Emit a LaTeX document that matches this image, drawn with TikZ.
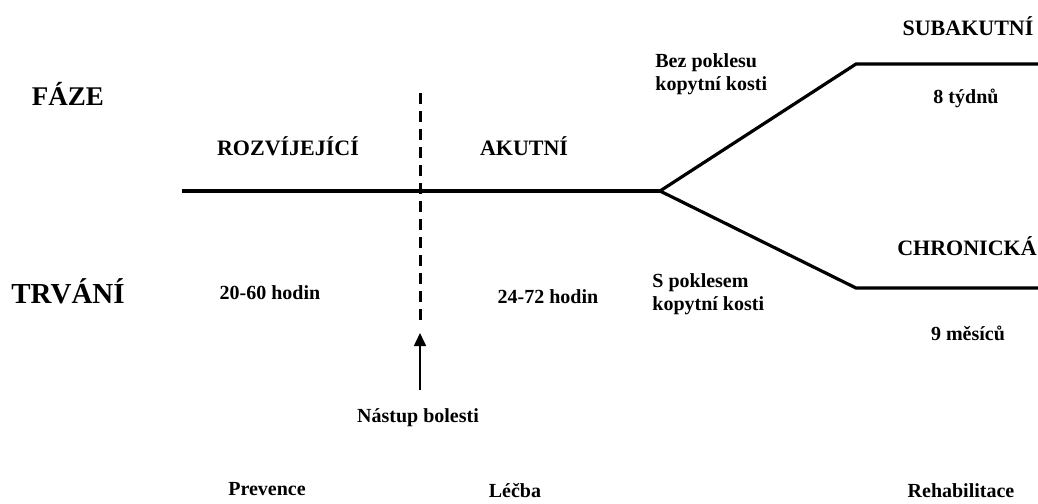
\documentclass[tikz,border=0pt]{standalone}
\usepackage{fontspec}
\setmainfont{Liberation Serif}
\usetikzlibrary{arrows.meta}

\tikzset{
  heading/.style={font=\bfseries\fontsize{13.5}{16}\selectfont, inner sep=0pt},
  phase/.style={font=\bfseries\fontsize{11}{13}\selectfont, inner sep=0pt},
  note/.style={font=\bfseries\fontsize{10}{11.5}\selectfont, align=left, inner sep=0pt},
  track/.style={line width=1.6pt},
  onsetline/.style={line width=1.5pt, dash pattern=on 5.5pt off 3.5pt},
}

\begin{document}
\begin{tikzpicture}[x=0.5pt, y=-0.5pt]
  \useasboundingbox (0,0) rectangle (1038,503);

  \coordinate (start) at (182,191);
  \coordinate (fork) at (660,191);
  \coordinate (upbend) at (856,64);
  \coordinate (upend) at (1038,64);
  \coordinate (lowbend) at (856,288);
  \coordinate (lowend) at (1038,288);
  \coordinate (onsettop) at (420,93);
  \coordinate (onsetbot) at (420,320);
  \coordinate (arrowtip) at (420,333);
  \coordinate (arrowtail) at (420,390);

  \draw[track] (start) -- (fork);
  \draw[track] (fork) -- (upbend) -- (upend);
  \draw[track] (fork) -- (lowbend) -- (lowend);
  \draw[onsetline] (onsettop) -- (onsetbot);
  \draw[line width=0.8pt, -{Triangle[length=6.5pt, width=6pt]}] (arrowtail) -- (arrowtip);

  \node[heading] (faze) at (68,94) {FÁZE};
  \node[heading, font=\bfseries\fontsize{14.5}{17}\selectfont] (trvani) at (68,291) {TRVÁNÍ};

  \node[phase] (rozvijejici) at (288,146) {ROZVÍJEJÍCÍ};
  \node[phase] (akutni) at (524,146) {AKUTNÍ};
  \node[phase] (subakutni) at (968,26) {SUBAKUTNÍ};
  \node[phase] (chronicka) at (967,246) {CHRONICKÁ};

  \node[note] (dur1) at (270,293) {20-60 hodin};
  \node[note] (dur2) at (548,297) {24-72 hodin};
  \node[note, anchor=west] (bez) at (655,74) {Bez poklesu\\kopytní kosti};
  \node[note, anchor=west] (spoklesem) at (652,294) {S poklesem\\kopytní kosti};
  \node[note] (tydny) at (966,98) {8 týdnů};
  \node[note] (mesice) at (968,333) {9 měsíců};
  \node[note] (nastup) at (418,418) {Nástup bolesti};

  \node[note] (prevence) at (267,489) {Prevence};
  \node[note] (lecba) at (515,491) {Léčba};
  \node[note] (rehab) at (961,491) {Rehabilitace};
\end{tikzpicture}
\end{document}
